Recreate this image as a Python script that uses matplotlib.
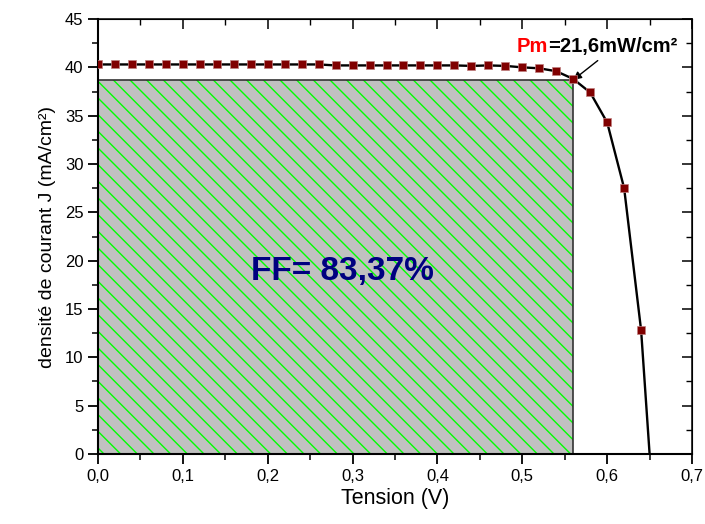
import matplotlib
matplotlib.use("Agg")
import matplotlib.pyplot as plt
from matplotlib.ticker import MultipleLocator
from matplotlib.patches import Rectangle

plt.rcParams['font.family'] = ['Liberation Sans', 'DejaVu Sans']

# J-V data (tension in V, current density in mA/cm2)
tension = [0.00, 0.02, 0.04, 0.06, 0.08, 0.10, 0.12, 0.14, 0.16, 0.18,
           0.20, 0.22, 0.24, 0.26, 0.28, 0.30, 0.32, 0.34, 0.36, 0.38,
           0.40, 0.42, 0.44, 0.46, 0.48, 0.50, 0.52, 0.54, 0.56, 0.58,
           0.60, 0.62, 0.64, 0.65]
courant = [40.3, 40.3, 40.3, 40.3, 40.3, 40.3, 40.3, 40.3, 40.3, 40.3,
           40.3, 40.3, 40.3, 40.3, 40.2, 40.2, 40.2, 40.2, 40.2, 40.2,
           40.2, 40.2, 40.15, 40.2, 40.15, 40.0, 39.9, 39.6, 38.8, 37.4,
           34.3, 27.5, 12.8, 0.0]
n_markers = 33  # last point (Voc) drawn without a marker

# maximum power point rectangle
v_max = 0.56
j_max = 38.7
pm_label = "Pm"
pm_value = "=21,6mW/cm²"
ff_label = "FF= 83,37%"

fig = plt.figure(figsize=(7.05, 5.24), dpi=100)
ax = fig.add_axes([0.139, 0.1336, 0.8426, 0.8301])

# filled + hatched area
ax.add_patch(Rectangle((0, 0), v_max, j_max, facecolor='#c0c0c0',
                       edgecolor='#00ff00', hatch='\\\\', linewidth=0, zorder=1))
ax.add_patch(Rectangle((0, 0), v_max, j_max, fill=False,
                       edgecolor='#333333', linewidth=1.2, zorder=2))

ax.plot(tension, courant, color='black', linewidth=1.7, zorder=3)
ax.plot(tension[:n_markers], courant[:n_markers], linestyle='none', marker='s',
        markersize=6, markerfacecolor='#800000', markeredgecolor='#c08080',
        markeredgewidth=0.5, zorder=4)

ax.text(0.2886, 18.9, ff_label, color='#000080', fontsize=24, fontweight='bold',
        ha='center', va='center', zorder=5)

pm = ax.text(0.4934, 41.6, pm_label, color='red', fontsize=14.5, fontweight='bold',
             ha='left', va='baseline', zorder=5)
ax.annotate(pm_value, xy=(1, 0), xycoords=pm, color='black', fontsize=14.5,
            fontweight='bold', ha='left', va='bottom')
ax.annotate('', xy=(v_max, j_max), xytext=(0.5889, 40.7),
            arrowprops=dict(arrowstyle='-|>', color='black', lw=1,
                            mutation_scale=12, shrinkA=0, shrinkB=0))

ax.set_xlim(0, 0.7)
ax.set_ylim(0, 45)
ax.xaxis.set_major_locator(MultipleLocator(0.1))
ax.xaxis.set_minor_locator(MultipleLocator(0.05))
ax.yaxis.set_major_locator(MultipleLocator(5))
ax.yaxis.set_minor_locator(MultipleLocator(2.5))
ax.xaxis.set_major_formatter(plt.FuncFormatter(lambda v, p: ('%.1f' % v).replace('.', ',')))

ax.tick_params(which='both', direction='out', top=False, right=False, labelsize=12)
ax.tick_params(which='major', length=7, width=1.3)
ax.tick_params(which='minor', length=4, width=1.1)

# inward ticks on top/right
sec_x = ax.secondary_xaxis('top')
sec_x.xaxis.set_major_locator(MultipleLocator(0.1))
sec_x.xaxis.set_minor_locator(MultipleLocator(0.05))
sec_x.tick_params(which='both', direction='in', labeltop=False)
sec_x.tick_params(which='major', length=7, width=1.1)
sec_x.tick_params(which='minor', length=4, width=1.0)
sec_y = ax.secondary_yaxis('right')
sec_y.yaxis.set_major_locator(MultipleLocator(5))
sec_y.yaxis.set_minor_locator(MultipleLocator(2.5))
sec_y.tick_params(which='both', direction='in', labelright=False)
sec_y.tick_params(which='major', length=7, width=1.1)
sec_y.tick_params(which='minor', length=4, width=1.0)

for name, spine in ax.spines.items():
    spine.set_linewidth(1.5 if name in ('left', 'bottom') else 1.1)

ax.set_xlabel('Tension (V)', fontsize=15.5, labelpad=3)
ax.set_ylabel('densité de courant J (mA/cm²)', fontsize=14, labelpad=6)

fig.savefig('out.png', dpi=100)
